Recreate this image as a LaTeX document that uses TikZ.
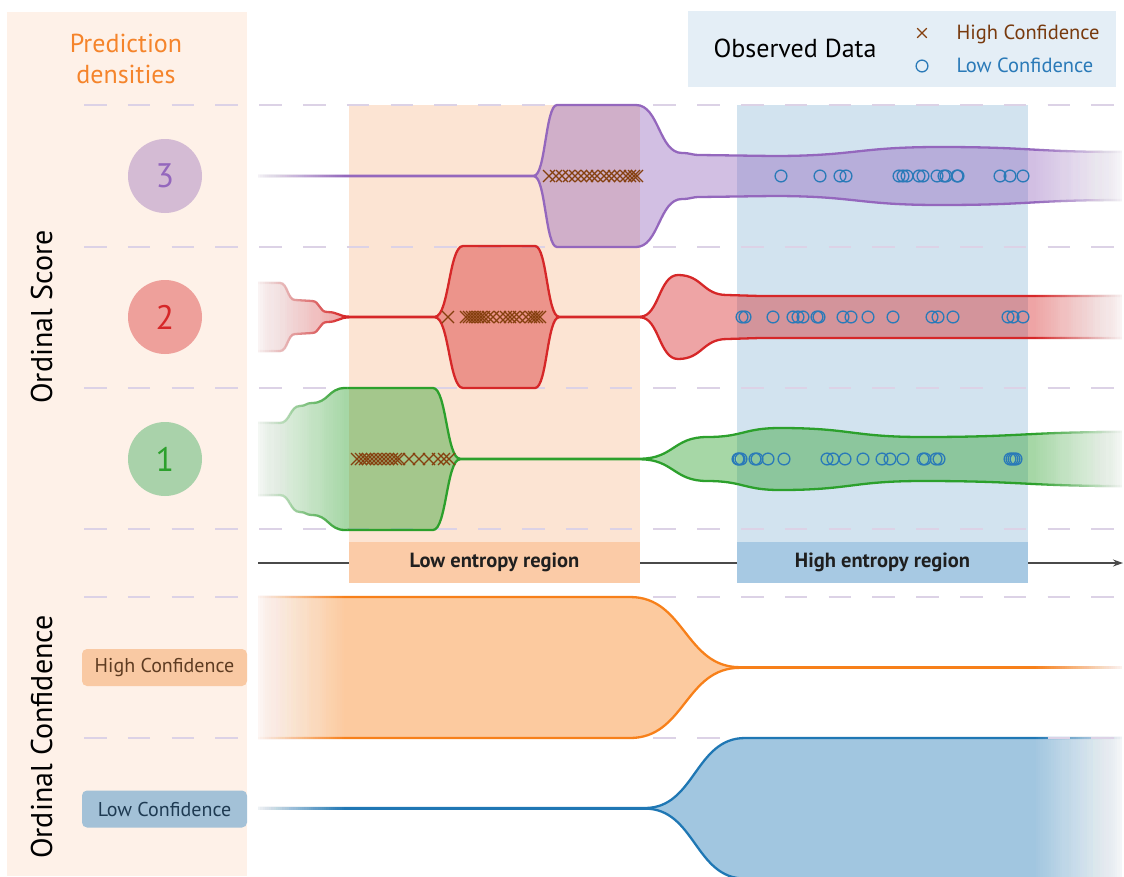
\documentclass[tikz,border=0pt]{standalone}
\usepackage{fontspec}
\setmainfont{PT Sans}
\usetikzlibrary{arrows.meta}

% palette
\definecolor{colbg}{HTML}{FEF1E8}
\definecolor{legbg}{HTML}{E4EEF6}
\definecolor{lowreg}{HTML}{FCE4D3}
\definecolor{lowlab}{HTML}{FBCBA7}
\definecolor{highreg}{HTML}{D2E3EF}
\definecolor{highlab}{HTML}{A7C9E3}
\definecolor{gridc}{HTML}{DCD2E6}
\definecolor{cpurple}{HTML}{9467BD}
\definecolor{cred}{HTML}{D62728}
\definecolor{cgreen}{HTML}{2CA02C}
\definecolor{corange}{HTML}{F7801A}
\definecolor{cblue}{HTML}{1F77B4}
\definecolor{xbrown}{HTML}{85400F}
\definecolor{obsblue}{HTML}{2A7AB8}
\definecolor{predorange}{HTML}{F5842B}
\definecolor{circP}{HTML}{D4BBD4}
\definecolor{circR}{HTML}{EEA09B}
\definecolor{circG}{HTML}{A9D2AA}
\definecolor{hcbox}{HTML}{F9C9A3}
\definecolor{lcbox}{HTML}{A3C1D7}
\definecolor{hctext}{HTML}{5E3C22}
\definecolor{lctext}{HTML}{1E3A52}
\definecolor{axisc}{HTML}{4A4A4A}

% Builds the outline of a symmetric density band.
% #1 centre y, #2 start x, #3 start half-width, #4 list of knots x/half-width
\newcommand\mkviolin[4]{%
  \gdef\VTpath{}\gdef\VBpath{}%
  \pgfmathsetmacro\vya{#1-#3}\pgfmathsetmacro\vyb{#1+#3}%
  \xdef\VStart{(#2,\vya)}\xdef\VEnd{(#2,\vyb)}%
  \foreach \x/\h [remember=\x as \lx (initially #2), remember=\h as \lh (initially #3)] in {#4}{%
    \pgfmathsetmacro\dd{(\x-\lx)/2}%
    \pgfmathsetmacro\yt{#1-\h}%
    \pgfmathsetmacro\yb{#1+\h}%
    \pgfmathsetmacro\ylb{#1+\lh}%
    \xdef\VTpath{\VTpath .. controls +(\dd,0) and +(-\dd,0) .. (\x,\yt)}%
    \xdef\VBpath{.. controls +(-\dd,0) and +(\dd,0) .. (\lx,\ylb) \VBpath}%
    \xdef\VEnd{(\x,\yb)}%
  }%
}
% fill the band, then stroke its two long edges
\newcommand\drawband[1]{%
  \fill[#1, fill opacity=0.42] \VStart \VTpath -- \VEnd \VBpath -- cycle;
  \draw[#1, bandline] \VStart \VTpath;
  \draw[#1, bandline] \VEnd \VBpath;
}
% white veils that let the bands dissolve at both ends (#1 top y, #2 bottom y)
\newcommand\edgeveil[2]{%
  \foreach \k in {1,...,40}{%
    \pgfmathsetmacro\xa{256+\k*2.2}%
    \pgfmathsetmacro\xb{1124-\k*2.2}%
    \pgfmathsetmacro\op{1/\k}%
    \fill[white, fill opacity=\op] (250,#1) rectangle (\xa,#2);
    \fill[white, fill opacity=\op] (\xb,#1) rectangle (1130,#2);
  }%
}

\tikzset{
  bandline/.style={line width=2.3pt, line join=round, line cap=butt},
  gridline/.style={draw=gridc, line width=1.3pt, dash pattern=on 22.5pt off 21.3pt},
  xm/.style={draw=xbrown, line width=1.15pt},
  obs/.style={draw=obsblue, line width=1.3pt},
  numcirc/.style={circle, minimum size=74pt, inner sep=0pt, font=\fontsize{34}{36}\selectfont},
  sidelab/.style={rounded corners=5pt, minimum width=165pt, minimum height=37pt,
    inner sep=0pt, font=\fontsize{20}{22}\selectfont},
  reglab/.style={minimum width=291pt, minimum height=41pt, inner sep=0pt,
    font=\bfseries\fontsize{20.5}{22}\selectfont, text=black!88},
  legtext/.style={anchor=base west, font=\fontsize{20.5}{22}\selectfont},
  axislab/.style={rotate=90, anchor=base, font=\fontsize{30}{34}\selectfont},
}

\begin{document}
\begin{tikzpicture}[x=1pt, y=-1pt]
\useasboundingbox (0,0) rectangle (1124,876);
\clip (0,0) rectangle (1124,876);

% left column and legend backgrounds
\fill[colbg] (7,12) rectangle (247,876);
\fill[legbg] (688,11) rectangle (1116,87);

% entropy regions
\fill[lowreg] (349,105) rectangle (640,542);
\fill[highreg] (737,105) rectangle (1028,542);

% row separators
\foreach \y in {105,247,388,529,597,738}
  \draw[gridline] (84,\y) -- (1122,\y);

% horizontal axis
\coordinate (axL) at (258,563);
\coordinate (axR) at (1123,563);
\draw[axisc, line width=1.2pt, -{Stealth[length=10pt,width=7pt]}] (axL) -- (axR);

% region labels
\node[reglab, fill=lowlab] (lowlabel) at (494.5,562.5) {Low entropy region};
\node[reglab, fill=highlab] (highlabel) at (882.5,562.5) {High entropy region};

% prediction density bands, score 3
\mkviolin{176}{258}{0.3}{534/0.3, 557/71, 636/71, 682/23, 700/21, 773/20, 940/29, 1124/24}
\drawband{cpurple}
% score 2
\mkviolin{317}{258}{34}{280/34, 295/17, 312/16, 327/5, 350/0.3, 435/0.3, 463/71, 535/71, 559/0.3, 640/0.3, 678/42, 727/22, 760/21, 1124/21}
\drawband{cred}
% score 1
\mkviolin{459}{258}{36}{280/36, 300/53, 312/56, 345/71, 433/71, 460/0.3, 640/0.3, 707/22, 780/31, 923/22, 1124/27}
\drawband{cgreen}
% confidence bands
\mkviolin{667.5}{258}{70.5}{630/70.5, 740/0.3, 1124/0.3}
\drawband{corange}
\mkviolin{808.3}{258}{0.3}{645/0.3, 745/70.3, 1124/70.3}
\drawband{cblue}

% dissolve the band ends
\edgeveil{100}{536}
\edgeveil{590}{880}
\begin{scope}
  \clip (250,90) rectangle (347,536);
  \foreach \y in {105,247,388,529} \draw[gridline] (84,\y) -- (1122,\y);
\end{scope}
\begin{scope}
  \clip (1035,90) rectangle (1124,876);
  \foreach \y in {105,247,388,529,597,738} \draw[gridline] (84,\y) -- (1122,\y);
\end{scope}

% high-confidence observations
\foreach \x in {549,556,562,569,575,581,587,592,597,604,609,614,620,626,630,634,637}
  \draw[xm] (\x,176) +(-6,-6) -- +(6,6) +(-6,6) -- +(6,-6);
\foreach \x in {448,466,469,472,475,478,481,484,488,493,500,506,510,514,519,526,531,534,537,540}
  \draw[xm] (\x,317) +(-6,-6) -- +(6,6) +(-6,6) -- +(6,-6);
\foreach \x in {357,361,365,368,372,376,380,384,388,392,396,399,409,419,429,438,444,449}
  \draw[xm] (\x,459) +(-6,-6) -- +(6,6) +(-6,6) -- +(6,-6);

% low-confidence observations
\foreach \x in {781,820,840,846,899,903,907,919,923,937,944,946,957,958,1000,1010,1023}
  \draw[obs] (\x,176) circle[radius=5.9];
\foreach \x in {742,745,773,793,798,803,817,819,843,851,868,893,932,938,953,1008,1013,1023}
  \draw[obs] (\x,317) circle[radius=5.9];
\foreach \x in {738,739,741,755,757,768,784,827,833,845,863,882,890,903,923,925,936,939,1010,1012,1014,1016}
  \draw[obs] (\x,459) circle[radius=5.9];

% ordinal score markers
\node[numcirc, fill=circP, text=cpurple] (s3) at (165,176) {3};
\node[numcirc, fill=circR, text=cred] (s2) at (165,317) {2};
\node[numcirc, fill=circG, text=cgreen] (s1) at (165,459) {1};

% left column titles
\node[anchor=base, text=predorange, font=\fontsize{26}{30}\selectfont] (pd1) at (126,52) {Prediction};
\node[anchor=base, text=predorange, font=\fontsize{26}{30}\selectfont] (pd2) at (126,83) {densities};
\node[axislab] (ordscore) at (52,317) {Ordinal Score};
\node[axislab] (ordconf) at (52,737) {Ordinal Confidence};

% confidence tags
\node[sidelab, fill=hcbox, text=hctext] (hctag) at (164.5,667.5) {High Confidence};
\node[sidelab, fill=lcbox, text=lctext] (lctag) at (164.5,809) {Low Confidence};

% legend
\node[anchor=base, font=\fontsize{26}{30}\selectfont] (obsdata) at (795,57) {Observed Data};
\coordinate (legx) at (922,33);
\draw[xm] (legx) +(-4.8,-4.8) -- +(4.8,4.8) +(-4.8,4.8) -- +(4.8,-4.8);
\node[legtext, text=xbrown!90!black] (leghigh) at (953,39) {High Confidence};
\coordinate (lego) at (922,66);
\draw[obs] (lego) circle[radius=5.9];
\node[legtext, text=obsblue] (leglow) at (953,72) {Low Confidence};
\end{tikzpicture}
\end{document}
